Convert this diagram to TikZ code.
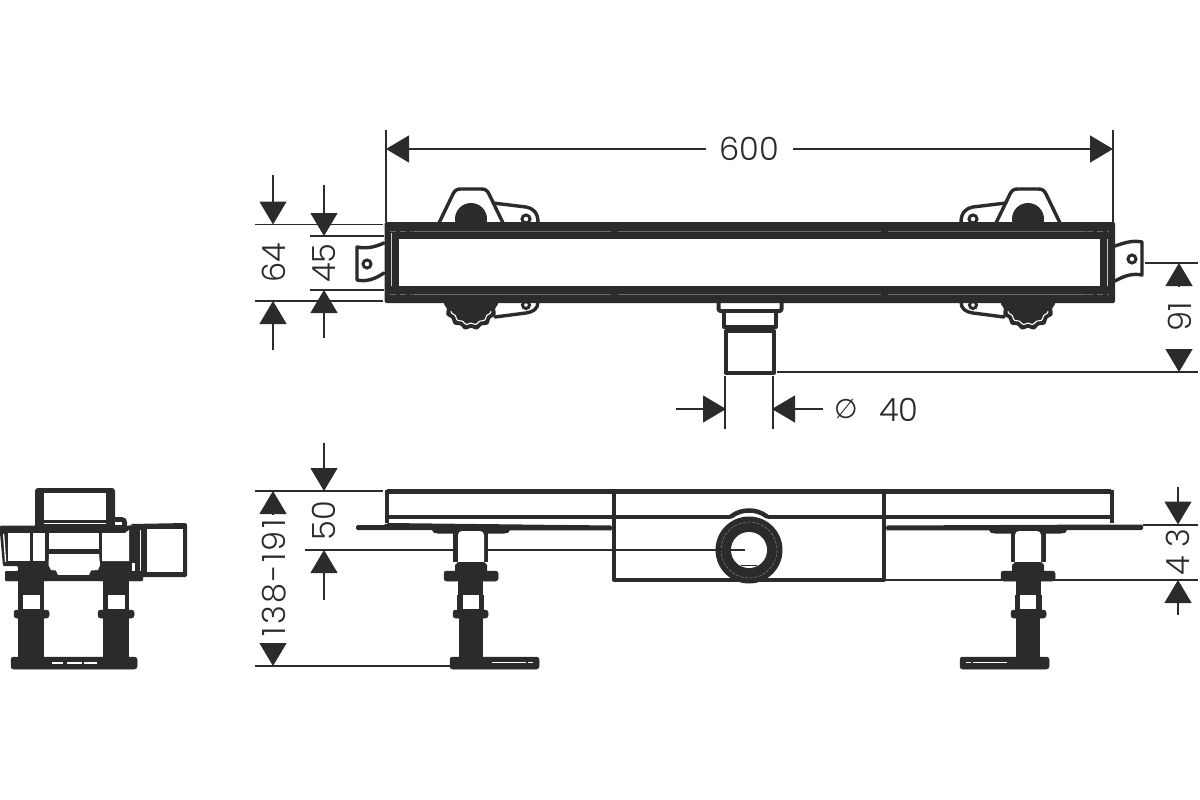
\documentclass[tikz,border=0pt]{standalone}
\usepackage{fontspec}
\setmainfont{Poppins}[UprightFont=* Light]
\newfontfamily\symfont{DejaVu Sans}
\usetikzlibrary{arrows.meta}
\definecolor{ink}{HTML}{2B2B2B}
\definecolor{seamgrey}{HTML}{6A6A6A}
\tikzset{
  dimline/.style={draw=ink,line width=1.2pt},
  dimtip/.style={dimline,-{Triangle[length=23pt,width=27pt]}},
  dimtext/.style={text=ink,font=\fontsize{32}{32}\selectfont,inner sep=0pt,text height=23pt,text depth=0pt},
  heavy/.style={draw=ink,line width=4pt,line join=round},
  medium/.style={draw=ink,line width=3.4pt,line join=round,line cap=round},
  solid ink/.style={fill=ink,draw=ink,line width=0.5pt,rounded corners=2.5pt},
  seam/.style={draw=seamgrey,line width=0.5pt},
}
\newcommand\topfoot{%
  % upper bracket
  \draw[medium,fill=white] (439,223) -- (453,194) .. controls (455,190) and (457,189) .. (461,189) -- (481,189) .. controls (485,189) and (487,190) .. (489,194) -- (503,223);
  \fill[ink] (471,219) circle (16);
  \draw[medium] (493,203) -- (526,207) .. controls (533,208) and (538,213) .. (538,222);
  \draw[ink,line width=3pt,fill=white] (526,219) circle (4);
  % lower wheel and arm
  \draw[medium] (495,317) -- (526,313) .. controls (533,312) and (538,309) .. (538,302);
  \draw[ink,line width=3pt,fill=white] (526,305) circle (3.5);
  \fill[ink] plot[domain=0:360,samples=145] ({471+(26+1.1*cos(14*\x))*cos(\x)},{303+(26+1.1*cos(14*\x))*sin(\x)}) -- cycle;
  \draw[white,line width=1.1pt] plot[domain=22:158,samples=50] ({471+(21+0.8*cos(14*\x))*cos(\x)},{303+(21+0.8*cos(14*\x))*sin(\x)});
}
\newcommand\frontleg{%
  \fill[ink,rounded corners=2pt] (432,525) -- (510,525) -- (510,532) -- (506,533.5) -- (436,533.5) -- (432,532) -- cycle;
  \fill[ink] (453,530) rectangle (488,562);
  \fill[white,rounded corners=4pt] (458,531) rectangle (484,570);
  \fill[ink] (458,562) -- (484,562) -- (487,565) -- (487,572) -- (455,572) -- (455,565) -- cycle;
  \draw[solid ink] (444,571) rectangle (498,581);
  \fill[ink] (458,581) rectangle (483,595);
  \fill[ink] (457,595) rectangle (484,610);
  \fill[white] (463,595) rectangle (479,609);
  \draw[solid ink] (453,610) rectangle (488,618);
  \fill[ink] (459,618) rectangle (483,660);
  \draw[solid ink] (450,657) rectangle (539,669);
  \draw[white,line width=1.2pt] (492,662.5) -- (526,662.5) (528,662.5) -- (533,662.5);
}
\begin{document}
\begin{tikzpicture}[x=1pt,y=-1pt]
\useasboundingbox[fill=white] (0,0) rectangle (1200,800);

% ---------- named dimension anchors
\coordinate (d600a) at (386,149); \coordinate (d600b) at (1113,149);
\coordinate (d600c) at (706,149); \coordinate (d600d) at (793,149);

% ---------- top view: feet, lugs, channel
\topfoot
\begin{scope}[shift={(1499,0)},xscale=-1]\topfoot\end{scope}

% lugs
\draw[medium] (384,243) .. controls (375,247) and (367,249) .. (357,247) -- (357,280) .. controls (367,282) and (375,279) .. (384,273);
\draw[ink,line width=3pt,fill=white] (367,264) circle (4);
\draw[medium] (1115,246) .. controls (1124,243) and (1132,240) .. (1142,242) -- (1142,275) .. controls (1132,273) and (1124,276) .. (1115,281);
\draw[ink,line width=3pt,fill=white] (1132,259) circle (4);

% outlet
\draw[heavy,fill=white,rounded corners=2pt] (718.5,300) -- (718.5,311) -- (781.5,311) -- (781.5,300);
\draw[heavy,fill=white] (724,311) rectangle (775.5,327);
\draw[heavy,fill=white] (725.5,331) rectangle (774,372.5);
\draw[ink,line width=3pt] (724,326) -- (776,326);

% channel
\fill[ink,rounded corners=1.5pt] (384.5,222) rectangle (1115,303);
\fill[white] (399,239) rectangle (1100,286);
\foreach \yy in {231,294}{
  \draw[seam] (413,\yy) -- (611,\yy) (618,\yy) -- (881,\yy) (888,\yy) -- (1086,\yy);
  \draw[seam,dash pattern=on 6pt off 4pt] (390,\yy) -- (412,\yy) (1087,\yy) -- (1109,\yy);
}
\draw[draw=gray!40,line width=0.8pt] (391,233) -- (391,286) (1107,239) -- (1107,286);

% ---------- top view dimensions
\draw[dimline] (386,130) -- (386,222) (1113,130) -- (1113,222);
\draw[dimtip] (d600c) -- (d600a);
\draw[dimtip] (d600d) -- (d600b);
\node[dimtext] (t600) at (749,149) {600};

\draw[dimline] (255,224.5) -- (383,224.5) (255,301) -- (383,301);
\draw[dimline] (310,236) -- (384,236) (310,290) -- (384,290);
\coordinate (a64t) at (273,224.5); \coordinate (a64b) at (273,301);
\draw[dimtip] (273,175) -- (a64t);
\draw[dimtip] (273,350) -- (a64b);
\node[dimtext,rotate=90] (t64) at (274,263) {64};
\coordinate (a45t) at (324,236); \coordinate (a45b) at (324,290);
\draw[dimtip] (324,185) -- (a45t);
\draw[dimtip] (324,338) -- (a45b);
\node[dimtext,rotate=90] (t45) at (324,263) {45};

\draw[dimline] (1145,263) -- (1198,263) (777,372) -- (1198,372);
\coordinate (a91t) at (1179,263); \coordinate (a91b) at (1179,372);
\draw[dimtip] (1179,286) -- (a91t);
\draw[dimtip] (1179,349) -- (a91b);
\node[dimtext,rotate=90] (t91) at (1180,317) {91};

\draw[dimline] (725,376) -- (725,429) (773,376) -- (773,429);
\coordinate (a40l) at (726,409); \coordinate (a40r) at (772,409);
\draw[dimtip] (676,409) -- (a40l);
\draw[dimtip] (823,409) -- (a40r);
\node[text=ink,inner sep=0pt,font=\symfont\fontsize{27}{27}\selectfont] (tphi) at (846,409) {∅};
\node[dimtext] (t40) at (899,410) {40};

% ---------- front view
\draw[heavy,line width=4.5pt] (387,491.5) -- (1111,491.5);
\draw[heavy,line width=4.5pt] (387,517) -- (1111,517);
\draw[heavy] (387,489.5) -- (387,523) (1111.5,489.5) -- (1111.5,523);
% flanges
\fill[ink,rounded corners=1.5pt] (356,525) -- (385,525) -- (387,523) -- (612,525.5) -- (612,530.5) -- (385,530) -- (356,530) -- cycle;
\fill[ink,rounded corners=1.5pt] (1143,524.5) -- (1113,524.5) -- (886,525.5) -- (886,530.5) -- (1113,530) -- (1143,530) -- cycle;
\fill[white] (389,519.8) -- (612,522.2) -- (612,525) -- (389,522.5) -- cycle;
\fill[white] (1109,519.8) -- (886,522.2) -- (886,525) -- (1109,522.5) -- cycle;
% centre box
\fill[white] (616,519.5) rectangle (882,578);
\draw[heavy] (614,489.5) -- (614,580) -- (884,580) -- (884,489.5);
% drain ring
\fill[white] (730,510) rectangle (768,519.5);
\draw[ink,line width=4.5pt,line cap=round] (731,516.5) .. controls (737,512) and (743,510.5) .. (749,510.5) .. controls (755,510.5) and (761,512) .. (767,516.5);
\fill[ink] (749,550) circle (33.5);
\draw[gray!85,line width=0.4pt,dash pattern=on 3pt off 1.5pt] (749,550) circle (28);
\fill[white] (749,550) circle (18);
\draw[ink,line width=1.5pt] (741,565.5) -- (757,565.5);

% front view dimensions (behind the legs)
\draw[dimline] (305,550) -- (745,550);
\draw[dimline] (886,580) -- (1198,580) (1143,525) -- (1198,525);
\draw[dimline] (255,491) -- (383,491) (255,666) -- (450,666);
\frontleg
\begin{scope}[shift={(1499,0)},xscale=-1]\frontleg\end{scope}

\coordinate (a138t) at (273,491); \coordinate (a138b) at (273,666);
\draw[dimtip] (273,514) -- (a138t);
\draw[dimtip] (273,643) -- (a138b);
\node[dimtext,rotate=90] (t138) at (274,578) {\addfontfeature{LetterSpace=7}138-191};
\coordinate (a50t) at (324,491); \coordinate (a50b) at (324,550);
\draw[dimtip] (324,443) -- (a50t);
\draw[dimtip] (324,600) -- (a50b);
\node[dimtext,rotate=90] (t50) at (324,521) {50};
\coordinate (a43t) at (1178,524.5); \coordinate (a43b) at (1178,580);
\draw[dimtip] (1178,487) -- (a43t);
\draw[dimtip] (1178,615) -- (a43b);
\node[dimtext,rotate=90] (t43) at (1178,552) {4 3};

% ---------- side view
\fill[ink,rounded corners=3pt] (35,488) rectangle (115,530);
\fill[white] (44,493) rectangle (106,520);
\draw[white,line width=1pt] (44,523.5) -- (106,523.5);
\fill[ink,rounded corners=2pt] (112,517) -- (124,517) -- (127,520) -- (127,527) -- (112,527) -- cycle;
\fill[white] (115,522) rectangle (122,525);
% body
\fill[ink,rounded corners=1pt] (0,525.5) -- (130,525.5) -- (143,524) -- (143,581) -- (5,581) -- (5,571) -- (18,571) -- (18,566) -- (3,566) -- (0,533) -- cycle;
\draw[white,line width=1.3pt] (3.6,534) -- (5.6,562);
\fill[white] (8,533) rectangle (30,561);
\fill[white] (33,533) rectangle (45,561);
\fill[white] (49,533) rectangle (99,549);
\fill[white] (49,554) -- (99,554) -- (100,565) -- (98,570) -- (91,570.5) -- (89,575) -- (58,575) -- (56,570.5) -- (51,570) -- (48.5,565) -- cycle;
\fill[white] (102,533) -- (125,533) -- (129,530) -- (129,561) -- (102,561) -- cycle;
\fill[white] (132,563) rectangle (135,571);
% right box
\fill[ink,rounded corners=1.5pt] (130,524) -- (187,523) -- (187,577) -- (142,577) -- (142,530) -- cycle;
\fill[white] (147,529) rectangle (183,572);
\draw[white,line width=1.2pt] (140.5,530) -- (140.5,571);
% legs and bar
\fill[ink,rounded corners=2.5pt] (5,571) rectangle (49,581);
\fill[ink,rounded corners=2.5pt] (95,571) rectangle (143,581);
\fill[ink] (49,575) rectangle (95,581);
\foreach \dx in {0,85}{
  \fill[ink] (18+\dx,581) rectangle (44+\dx,660);
  \fill[white] (23+\dx,595) rectangle (40+\dx,609);
}
\draw[solid ink] (14,610) rectangle (49,618);
\draw[solid ink] (98,610) rectangle (134,618);
\draw[solid ink] (11,657) rectangle (137,669);
\draw[white,line width=1.2pt] (52,663) -- (63,663) (67,663) -- (82,663) (84,663) -- (97,663);
\end{tikzpicture}
\end{document}
